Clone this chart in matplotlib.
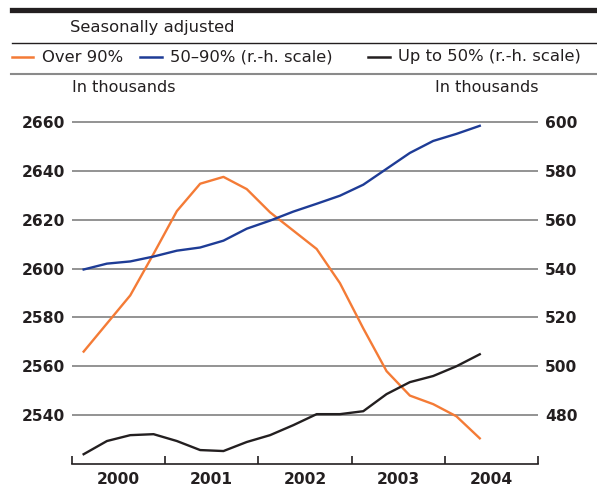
import numpy as np
import matplotlib
matplotlib.use("Agg")
import matplotlib.pyplot as plt
from matplotlib.lines import Line2D

plt.rcParams['font.family'] = ['DejaVu Sans']

# quarterly, 2000Q1 .. 2004Q2
quarters = ["2000Q1", "2000Q2", "2000Q3", "2000Q4",
            "2001Q1", "2001Q2", "2001Q3", "2001Q4",
            "2002Q1", "2002Q2", "2002Q3", "2002Q4",
            "2003Q1", "2003Q2", "2003Q3", "2003Q4",
            "2004Q1", "2004Q2"]
over90 = [2566, 2577.5, 2589, 2606, 2623.5, 2634.7, 2637.5, 2632.5, 2623,
          2615.5, 2608, 2594, 2575.5, 2558, 2548, 2544.5, 2539.5, 2530.5]
mid50_90 = [539.6, 542, 542.9, 544.9, 547.3, 548.6, 551.4, 556.3, 559.6,
            563.3, 566.5, 569.8, 574.3, 580.8, 587.3, 592.2, 595.1, 598.4]
upto50 = [464, 469.4, 471.8, 472.2, 469.4, 465.7, 465.3, 469, 471.8,
          475.9, 480.4, 480.4, 481.6, 488.6, 493.5, 496, 500, 504.9]
years = [2000, 2001, 2002, 2003, 2004]
left_ticks = [2540, 2560, 2580, 2600, 2620, 2640, 2660]
right_ticks = [480, 500, 520, 540, 560, 580, 600]

x = np.array([int(q[:4]) + (int(q[-1]) - 0.5) / 4 for q in quarters])

c_orange = "#F47B36"
c_blue = "#1E3C96"
c_black = "#231F20"
c_grid = "#8A8A8A"

fig = plt.figure(figsize=(5.97, 4.88), dpi=100)
ax = fig.add_axes([0.1206, 0.0492, 0.7806, 0.711])
ax2 = ax.twinx()

ax.set_xlim(2000, 2005)
ax.set_ylim(2520, 2662)
ax2.set_ylim(460, 602)

for t in left_ticks:
    ax.axhline(t, color=c_grid, lw=1.3, zorder=1)

ax.plot(x, over90, color=c_orange, lw=1.7, zorder=3)
ax2.plot(x, mid50_90, color=c_blue, lw=1.7, zorder=3)
ax2.plot(x, upto50, color=c_black, lw=1.7, zorder=3)

for a in (ax, ax2):
    for s in ("top", "left", "right"):
        a.spines[s].set_visible(False)
ax2.spines["bottom"].set_visible(False)
ax.spines["bottom"].set_color(c_black)
ax.spines["bottom"].set_linewidth(1.2)

tick_font = dict(fontsize=11.2, fontweight="bold", color=c_black)
ax.set_yticks(left_ticks)
ax.set_yticklabels([str(t) for t in left_ticks], **tick_font)
ax.tick_params(axis="y", length=0, pad=5)
ax2.set_yticks(right_ticks)
ax2.set_yticklabels([str(t) for t in right_ticks], **tick_font)
ax2.tick_params(axis="y", length=0, pad=5)

ax.set_xticks([2000, 2001, 2002, 2003, 2004, 2005])
ax.set_xticklabels([])
ax.set_xticks([y + 0.5 for y in years], minor=True)
ax.set_xticklabels([str(y) for y in years], minor=True, **tick_font)
ax.tick_params(axis="x", which="major", direction="in", length=6, width=1.2, color=c_black)
ax.tick_params(axis="x", which="minor", length=0, pad=6)

# header
fig.add_artist(Line2D([0.020, 1.0], [0.9785, 0.9785], transform=fig.transFigure, color=c_black, lw=3.8))
fig.text(0.117, 0.944, "Seasonally adjusted", fontsize=11.8, va="center", ha="left", color=c_black)
fig.add_artist(Line2D([0.020, 1.0], [0.912, 0.912], transform=fig.transFigure, color=c_black, lw=1.0))
fig.add_artist(Line2D([0.018, 1.0], [0.849, 0.849], transform=fig.transFigure, color=c_grid, lw=1.5))

legend_items = [(12, 33, 42, c_orange, "Over 90%"),
                (140, 162, 170, c_blue, "50\u201390% (r.-h. scale)"),
                (368, 390, 398, c_black, "Up to 50% (r.-h. scale)")]
ly = 1 - 57 / 488
for x0, x1, tx, col, label in legend_items:
    fig.add_artist(Line2D([x0 / 597, x1 / 597], [ly, ly], transform=fig.transFigure, color=col, lw=1.8))
    fig.text(tx / 597, ly, label, fontsize=11.8, va="center", ha="left", color=c_black)

fig.text(0.1206, 1 - 88 / 488, "In thousands", fontsize=11.5, va="center", ha="left", color=c_black)
fig.text(0.9012, 1 - 88 / 488, "In thousands", fontsize=11.5, va="center", ha="right", color=c_black)

fig.savefig("out.png", dpi=100)
